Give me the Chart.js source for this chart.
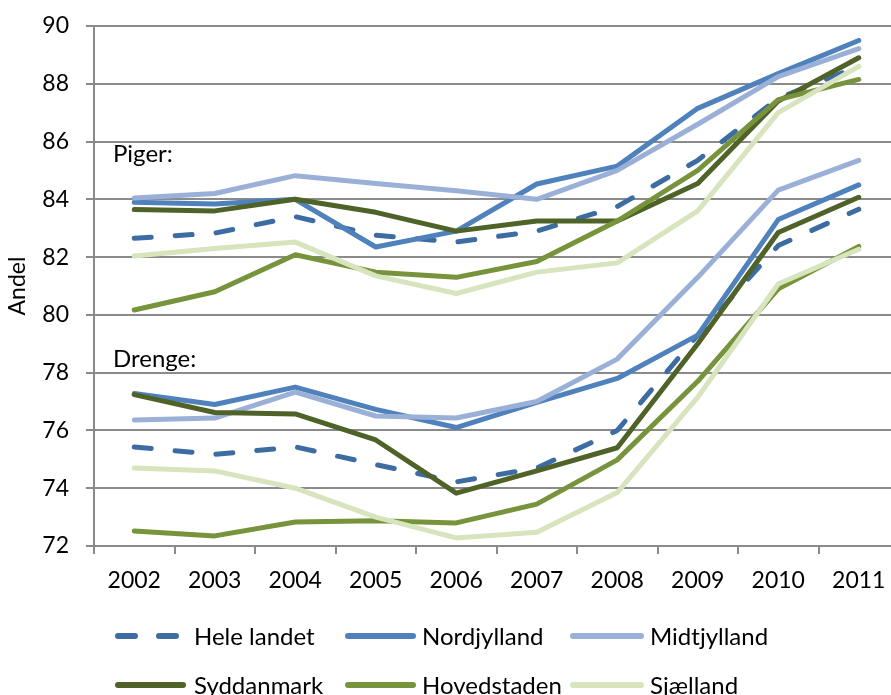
<!DOCTYPE html>
<html>
<head>
<meta charset="utf-8">
<script src="https://cdn.jsdelivr.net/npm/chart.js@4"></script>
<style>
  html, body { margin: 0; padding: 0; background: #fff; overflow: hidden; }
  #wrap { width: 905px; height: 700px; position: relative; }
</style>
</head>
<body>
<div id="wrap"><canvas id="chart"></canvas></div>
<script>
// Andel pr. år, piger og drenge
const years = ['2002', '2003', '2004', '2005', '2006', '2007', '2008', '2009', '2010', '2011'];
const regions = ['Hele landet', 'Nordjylland', 'Midtjylland', 'Syddanmark', 'Hovedstaden', 'Sjælland'];

const helePiger  = [82.65, 82.83, 83.4, 82.76, 82.52, 82.9, 83.75, 85.35, 87.5, 88.6];
const nordPiger  = [83.9, 83.84, 84.0, 82.35, 82.9, 84.53, 85.15, 87.15, 88.35, 89.5];
const midtPiger  = [84.05, 84.2, 84.82, 84.55, 84.3, 84.0, 85.0, 86.6, 88.25, 89.22];
const syddPiger  = [83.65, 83.6, 84.0, 83.55, 82.9, 83.25, 83.25, 84.55, 87.4, 88.9];
const hovedPiger = [80.17, 80.8, 82.08, 81.48, 81.3, 81.85, 83.25, 85.0, 87.45, 88.15];
const sjPiger    = [82.04, 82.3, 82.52, 81.35, 80.74, 81.48, 81.8, 83.6, 87.0, 88.6];

const heleDrenge  = [75.43, 75.17, 75.43, 74.82, 74.22, 74.7, 76.0, 79.3, 82.4, 83.66];
const nordDrenge  = [77.28, 76.9, 77.5, 76.73, 76.1, 76.97, 77.8, 79.3, 83.3, 84.5];
const midtDrenge  = [76.36, 76.43, 77.33, 76.5, 76.43, 77.0, 78.47, 81.3, 84.32, 85.35];
const syddDrenge  = [77.24, 76.62, 76.57, 75.67, 73.83, 74.6, 75.4, 79.0, 82.85, 84.07];
const hovedDrenge = [72.52, 72.35, 72.83, 72.87, 72.8, 73.45, 74.98, 77.7, 80.9, 82.37];
const sjDrenge    = [74.7, 74.6, 74.0, 73.0, 72.28, 72.48, 73.85, 77.15, 81.07, 82.27];

const yTicks = [72, 74, 76, 78, 80, 82, 84, 86, 88, 90];

const colors = ['#3d6ca3', '#4f81bd', '#9ab0d6', '#4f6228', '#77933c', '#d7e4bd'];
const FONT = 'Lato, "Open Sans", sans-serif';
const GRID = '#8a8a8a';

const pigerData = [helePiger, nordPiger, midtPiger, syddPiger, hovedPiger, sjPiger];
const drengeData = [heleDrenge, nordDrenge, midtDrenge, syddDrenge, hovedDrenge, sjDrenge];

function makeSet(name, i, data, group) {
    return {
        label: name,
        group: group,
        data: data,
        borderColor: colors[i],
        backgroundColor: colors[i],
        borderWidth: 5,
        borderDash: i === 0 ? [17, 24] : [],
        borderCapStyle: 'round',
        borderJoinStyle: 'round',
        pointRadius: 0,
        tension: 0,
        fill: false,
        order: 6 - i,
    };
}

const datasets = [];
regions.forEach((r, i) => datasets.push(makeSet(r, i, pigerData[i], 'Piger')));
regions.forEach((r, i) => datasets.push(makeSet(r, i, drengeData[i], 'Drenge')));

// tekst "Piger:" / "Drenge:" og forklaring tegnes her
const extras = {
    id: 'extras',
    afterDraw(chart) {
        const ctx = chart.ctx;
        const y = chart.scales.y;
        const left = chart.chartArea.left;
        ctx.save();
        ctx.fillStyle = '#000';
        ctx.font = '24px ' + FONT;
        ctx.textBaseline = 'alphabetic';
        ctx.textAlign = 'left';
        ctx.fillText('Piger:', left + 19, y.getPixelForValue(85.29));
        ctx.fillText('Drenge:', left + 19, y.getPixelForValue(78.2));

        // legend, 3 kolonner x 2 rækker
        const cols = [[115, 186, 194], [345, 416, 422], [570, 644, 650]];
        const rows = [636, 685];
        for (let i = 0; i < regions.length; i++) {
            const c = cols[i % 3];
            const ry = rows[Math.floor(i / 3)];
            const ds = chart.data.datasets[i];
            ctx.beginPath();
            ctx.strokeStyle = ds.borderColor;
            ctx.lineWidth = 6;
            ctx.lineCap = 'round';
            ctx.setLineDash(i === 0 ? [17, 24] : []);
            ctx.moveTo(c[0] + 3, ry);
            ctx.lineTo(c[1] - 3, ry);
            ctx.stroke();
            ctx.setLineDash([]);
            ctx.fillStyle = '#000';
            ctx.textBaseline = 'middle';
            ctx.fillText(regions[i], c[2], ry + 1);
        }
        ctx.restore();
    }
};

new Chart(document.getElementById('chart'), {
    type: 'line',
    data: { labels: years, datasets: datasets },
    options: {
        responsive: true,
        maintainAspectRatio: false,
        animation: false,
        layout: { padding: { top: 26, right: 6, bottom: 94, left: 0 } },
        plugins: {
            legend: { display: false },
            tooltip: { enabled: false },
        },
        scales: {
            x: {
                offset: true,
                grid: { offset: true, drawOnChartArea: false, tickLength: 8, color: GRID, lineWidth: 2 },
                border: { display: true, color: GRID, width: 2 },
                ticks: { color: '#000', font: { family: FONT, size: 23 }, padding: 13, maxRotation: 0, autoSkip: false },
                afterFit: s => { s.height = 60; },
            },
            y: {
                min: 72,
                max: 90,
                afterBuildTicks: s => { s.ticks = yTicks.map(v => ({ value: v })); },
                grid: { color: GRID, lineWidth: 2, tickLength: 8 },
                border: { display: true, color: GRID, width: 2 },
                ticks: { color: '#000', font: { family: FONT, size: 23 }, padding: 17 },
                title: { display: true, text: 'Andel', color: '#000', font: { family: FONT, size: 23 }, padding: { top: 4, bottom: 0 } },
                afterFit: s => { s.width = 94; s.paddingTop = 0; s.paddingBottom = 0; },
            },
        },
    },
    plugins: [extras],
});
</script>
</body>
</html>
